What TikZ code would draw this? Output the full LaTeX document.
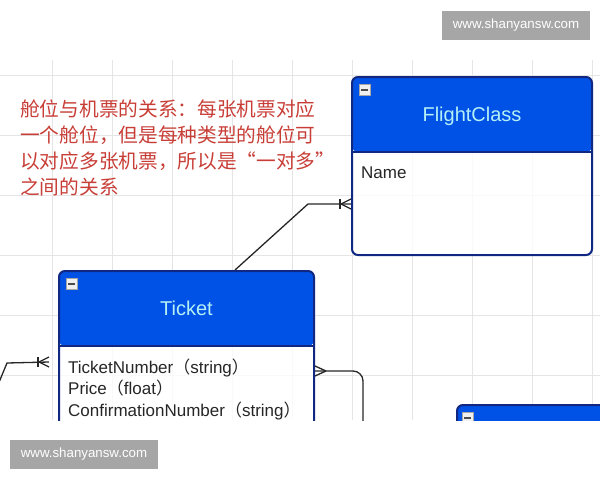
\documentclass[tikz,border=0pt]{standalone}
\usepackage{fontspec}
\setmainfont{Liberation Sans}
\newfontfamily\cjk{Noto Sans CJK SC}
\usepackage{tikz}
\usetikzlibrary{positioning,calc}
\definecolor{hdrblue}{RGB}{0,82,230}
\definecolor{navy}{RGB}{16,40,130}
\definecolor{titlecyan}{RGB}{180,240,245}
\definecolor{notered}{RGB}{200,62,55}
\definecolor{wmgray}{RGB}{166,166,166}

\begin{document}
\begin{tikzpicture} [x=1pt, y=-1pt,
        grid/.style={draw=black!10, line width=1},
        entity/.style={draw=navy, line width=2, rounded corners=6, fill=white,
          fill opacity=0.8, text opacity=1, inner sep=0pt,
          path picture={
            \fill[hdrblue, fill opacity=1] (path picture bounding box.north west)
              rectangle ([yshift=-75pt]path picture bounding box.north east);
            \draw[navy, line width=2] ([yshift=-75pt]path picture bounding box.north west)
              -- ([yshift=-75pt]path picture bounding box.north east);
          }},
        minus/.style={draw=gray!70, fill=gray!12, line width=0.6, minimum size=11pt, inner sep=0pt,
          path picture={
            \draw[black!70, line width=1.6] ([xshift=2pt]path picture bounding box.west)
              -- ([xshift=-2pt]path picture bounding box.east);
          }},
        title/.style={text=titlecyan, anchor=base, font=\fontsize{20}{24}\selectfont},
        attr/.style={text=black!85, inner sep=0pt, align=left, font=\fontsize{17}{21.5}\selectfont},
        conn/.style={draw=black!85, line width=1.3},
        wmark/.style={fill=wmgray, text=white, minimum width=148pt, minimum height=29pt,
          font=\fontsize{13.3}{16}\selectfont}]
        \useasboundingbox (0,0) rectangle (600,480);
        \begin{scope}
          \clip (0,60) rectangle (600,420);
          \foreach \x in {52,112,...,592} {
            \draw[grid] (\x,60) -- (\x,420);
          };
          \foreach \y in {75,135,...,375} {
            \draw[grid] (0,\y) -- (600,\y);
          };
          \node[entity, minimum width=240pt, minimum height=178pt] (fc) at (472,166) {};
          \node[entity, minimum width=255pt, minimum height=200pt] (ticket) at (186.5,371) {};
          \node[entity, minimum width=200pt, minimum height=150pt] (seat) at (557,480) {};
          \node[minus, below right=8pt and 8pt of fc.north west] (fcminus) {};
          \node[minus, below right=8pt and 8pt of ticket.north west] (ticketminus) {};
          \node[minus, below right=8pt and 6pt of seat.north west] (seatminus) {};
          \node[title] (fctitle) at ($(fc.north)+(0,45)$) {FlightClass};
          \node[title] (tickettitle) at ($(ticket.north)+(0,45)$) {Ticket};
          \node[attr, anchor=west] (fcattr) at ($(fc.north west)+(10,97)$) {Name};
          \node[attr, anchor=west] (ticketattr) at ($(ticket.north west)+(10,119)$)
            {TicketNumber{\cjk （}string{\cjk ）}\\
             Price{\cjk （}float{\cjk ）}\\
             ConfirmationNumber{\cjk （}string{\cjk ）}};
          \coordinate (bendfc) at (308,204);
          \coordinate (bendleft) at (7,363);
          \coordinate (freeleft) at (-10,404);
          \coordinate (freeright) at (363,440);
          \draw[conn] ($(ticket.north)+(48.5,0)$) -- (bendfc) -- ($(fc.west)+(0,38)$);
          \foreach \d in {-5,5} {
            \draw[conn] ($(fc.west)+(-10,38)$) -- ($(fc.west)+(0,38+\d)$);
          };
          \draw[conn] ($(fc.west)+(-11,33)$) -- ($(fc.west)+(-11,43)$);
          \draw[conn] (freeleft) -- (bendleft) -- ($(ticket.north west)+(-9,92)$);
          \foreach \d in {-5,5} {
            \draw[conn] ($(ticket.north west)+(-19,92)$) -- ($(ticket.north west)+(-9,92+\d)$);
          };
          \draw[conn] ($(ticket.north west)+(-20,87)$) -- ($(ticket.north west)+(-20,97)$);
          \draw[conn, rounded corners=10] ($(ticket.north east)+(0,101)$) -| (freeright);
          \foreach \d in {-5,5} {
            \draw[conn] ($(ticket.north east)+(11,101)$) -- ($(ticket.north east)+(0,101+\d)$);
          };
        \end{scope}
        \node[anchor=north west, inner sep=0pt, align=left, text=notered,
          font=\cjk\fontsize{19.7}{26}\selectfont] (note) at (20,100)
          {舱位与机票的关系：每张机票对应\\
           一个舱位，但是每种类型的舱位可\\
           以对应多张机票，所以是“一对多”\\
           之间的关系};
        \node[wmark] (wmtop) at (516,25) {www.shanyansw.com};
        \node[wmark] (wmbottom) at (84,454.5) {www.shanyansw.com};
      \end{tikzpicture}
\end{document}
